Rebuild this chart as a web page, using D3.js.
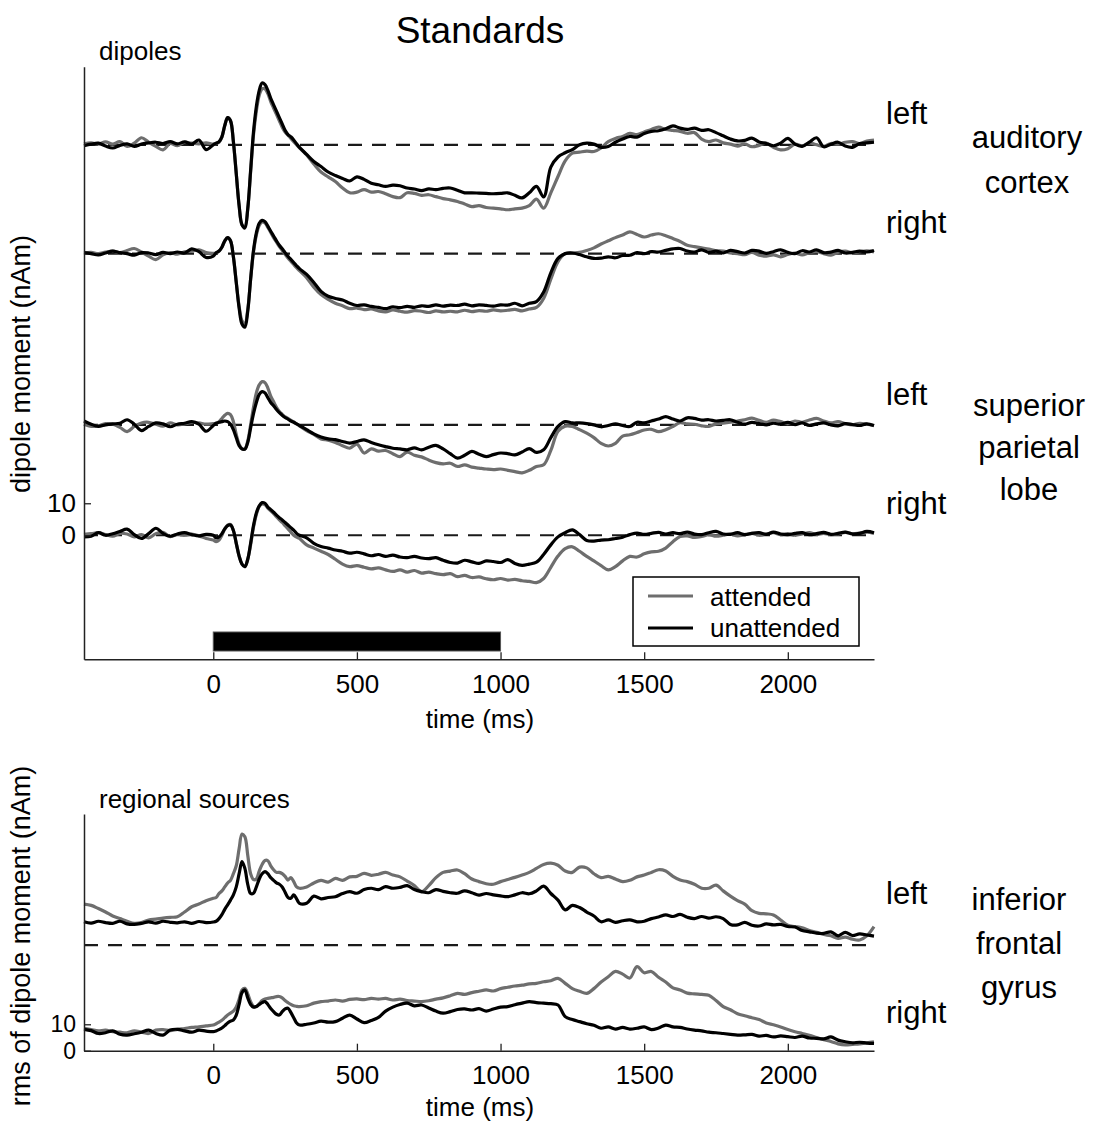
<!DOCTYPE html>
<html>
<head>
<meta charset="utf-8">
<script src="https://cdn.jsdelivr.net/npm/d3@7"></script>
<style>
  body { margin: 0; background: #fff; }
  svg { display: block; }
</style>
</head>
<body>
<svg id="chart" width="1093" height="1122"></svg>
<script>
'use strict';

// sample times (ms), shared by every trace
var times = [-450,-425,-400,-375,-350,-325,-300,-275,-250,-225,-200,-175,-150,-125,-100,-75,-50,-25,0,
  10,20,30,40,50,60,70,80,90,100,110,120,130,140,150,160,170,180,190,200,210,220,230,240,250,260,270,280,290,300,
  325,350,375,400,425,450,475,500,525,550,575,600,625,650,675,700,725,750,775,800,
  825,850,875,900,925,950,975,1000,1025,1050,1075,1100,1125,1150,1175,1200,1225,1250,1275,1300,
  1325,1350,1375,1400,1425,1450,1475,1500,1525,1550,1575,1600,1625,1650,1675,1700,1725,1750,1775,1800,
  1825,1850,1875,1900,1925,1950,1975,2000,2025,2050,2075,2100,2125,2150,2175,2200,2225,2250,2275,2300];

// dipoles (nAm) - auditory cortex left
var laAtt = [0.3,0.6,0.2,0.9,0.2,1.0,-0.5,0.5,2.2,0.8,-0.5,-1.6,0.4,-0.3,0.8,0.5,0.3,0.6,0.2,
  0.4,0.8,2.4,6.0,8.5,7.5,1.0,-9,-19,-25,-25.5,-20,-8.5,3,10.5,15.5,17.5,17.5,16,13.5,11.5,9.5,7.5,5.5,4,3,2,1,0,-1,
  -3.2,-6.0,-8.5,-10.0,-11.5,-13.5,-15.0,-14.8,-14.0,-14.8,-14.6,-15.3,-16.2,-16.5,-15.0,-15.2,-15.8,-15.6,-16.2,-16.8,
  -17.2,-17.7,-18.5,-19.3,-19.0,-19.6,-19.8,-20.0,-20.3,-20.0,-19.8,-19.0,-17.0,-19.8,-15.0,-9.9,-5.0,-2.6,-2.3,-2.0,
  -2.1,-1.0,1.0,2.0,2.6,3.6,3.2,4.0,4.8,5.5,4.8,4.5,4.2,3.6,3.8,1.8,1.0,1.5,0.6,0.2,
  -0.4,0.3,-0.6,-0.2,0.5,-0.8,-1.6,-1.2,0.2,-0.3,0.6,0.0,-0.5,0.4,0.2,0.8,1.0,0.4,1.2,1.5];
var laUna = [-0.3,0.2,0.5,-0.4,-1.0,-0.2,0.3,-0.5,0.2,0.6,0.8,0.4,1.0,0.3,0.9,0.2,1.5,-1.5,0.0,
  0.5,1.0,2.5,6.0,8.5,7.5,1.0,-9,-19,-25,-26,-20,-8,4,12,17,19.3,18.8,17.0,14.5,12.5,10.5,8.5,6.5,4.5,3.2,2.5,1.5,0.3,-0.8,
  -3.0,-5.2,-6.8,-8.5,-9.6,-10.5,-11.3,-10.0,-10.8,-12.0,-12.5,-13.0,-12.6,-12.8,-13.5,-13.8,-14.3,-13.8,-14.0,-13.6,
  -13.5,-14.2,-15.0,-15.0,-15.1,-15.2,-15.3,-15.2,-15.0,-15.8,-16.6,-15.0,-13.0,-16.3,-7.0,-3.8,-2.5,-1.5,0.0,0.5,
  0.2,-0.8,-0.5,0.8,1.8,2.6,2.4,3.5,4.2,4.4,5.0,5.9,5.2,4.8,5.2,4.5,4.7,3.8,2.8,1.8,
  1.2,1.4,2.1,0.9,0.4,-0.3,0.5,2.0,0.2,-0.5,0.8,2.2,-0.6,0.2,0.8,-0.4,-0.8,0.4,0.6,0.8];

// auditory cortex right
var raAtt = [0.2,0.4,0.0,0.5,0.8,0.3,1.0,1.6,0.5,-0.8,-1.9,-0.4,0.3,-0.2,0.6,0.8,1.2,0.3,0.1,
  0.2,0.8,2.0,4.0,5.0,4.0,-1.0,-9,-16.5,-21,-22,-17.5,-8,0.5,5.8,8.8,9.9,9.6,8.2,6.6,5.0,3.6,2.2,1.0,-0.2,-1.4,-2.4,-3.4,-4.4,-5.3,
  -7.5,-10.5,-12.8,-14.3,-15.5,-16.3,-17.2,-17.0,-17.5,-17.3,-17.9,-18.2,-17.6,-18.0,-18.3,-17.8,-18.0,-18.4,-17.9,-18.2,
  -18.0,-18.2,-17.7,-18.1,-17.8,-18.0,-17.6,-17.9,-17.7,-17.4,-17.9,-17.3,-16.8,-14.0,-8.0,-2.5,0.0,0.2,0.4,1.0,
  1.8,3.0,4.0,5.0,5.8,6.8,6.0,5.2,5.8,6.2,5.6,4.7,3.8,2.6,2.2,1.8,1.4,0.9,0.8,0.2,
  0.0,-0.3,0.4,-0.5,-0.8,-0.4,-1.0,-0.3,0.2,-0.4,0.3,0.6,0.0,-0.5,0.4,0.8,0.2,0.6,0.9,0.5];
var raUna = [0.3,0.0,-0.4,0.2,0.8,0.3,0.0,-0.5,0.3,0.2,-0.3,0.4,0.0,0.5,0.2,1.5,0.6,-1.2,-0.8,
  0.3,0.8,2.0,4.0,5.0,4.0,-1.0,-9,-17,-22,-23,-18,-8,1,6.5,9.5,10.4,10.0,8.6,7.0,5.5,4.0,2.6,1.5,0.3,-0.8,-1.8,-2.8,-3.8,-4.7,
  -6.5,-9.0,-11.8,-13.3,-14.0,-14.5,-15.5,-16.2,-16.0,-16.5,-16.8,-17.2,-16.6,-16.9,-16.5,-16.8,-16.3,-16.5,-16.0,-16.4,
  -16.1,-16.2,-15.8,-16.3,-16.0,-16.2,-16.4,-16.0,-16.1,-15.5,-16.3,-15.5,-15.0,-12.0,-6.0,-1.5,0.0,0.2,-0.3,-1.0,
  -1.5,-1.4,-1.0,-1.3,-0.6,-0.5,0.3,0.0,0.6,0.5,1.0,1.5,1.6,0.8,0.5,1.2,0.4,0.8,0.2,1.0,
  0.6,0.2,1.0,0.8,0.1,0.6,1.2,0.4,0.0,0.9,0.5,1.2,0.3,0.5,1.0,0.2,0.4,0.8,0.5,1.0];

// superior parietal lobe left
var lsAtt = [0.2,-0.5,-0.3,0.4,0.2,-0.8,-2.1,-0.5,0.6,0.8,0.2,-0.4,0.6,0.0,0.3,0.8,0.6,0.2,0.4,
  0.5,1.0,2.0,3.0,3.6,3.2,1.0,-3.0,-6.0,-7.5,-7.6,-5.0,0.0,5.5,10.0,12.5,13.5,13.2,11.5,9.0,7.2,5.5,4.2,3.3,2.5,2.0,1.4,0.9,0.3,-0.3,
  -1.8,-3.0,-4.4,-4.8,-5.5,-6.5,-7.3,-6.0,-8.8,-7.5,-8.2,-8.0,-9.0,-9.9,-8.5,-9.5,-10.0,-11.0,-11.8,-12.2,
  -12.0,-13.0,-12.5,-13.2,-13.5,-13.8,-14.0,-13.8,-14.2,-14.6,-15.0,-14.2,-13.0,-12.5,-8.0,-2.0,-0.4,-0.5,-1.5,-2.6,
  -4.0,-5.8,-6.6,-5.8,-3.5,-3.1,-2.4,-1.6,-1.4,-2.1,-1.5,-0.5,0.7,0.3,0.2,-0.3,-0.5,0.3,0.5,0.8,
  1.2,1.6,2.1,1.4,0.8,1.5,1.0,0.4,1.2,0.8,1.5,2.0,1.2,0.6,1.0,0.4,0.0,0.5,0.2,-0.3];
var lsUna = [1.2,0.2,-0.5,0.0,0.3,0.5,1.6,0.2,-1.8,-0.5,0.6,0.3,-0.6,0.2,0.5,1.0,0.2,-2.0,-0.2,
  0.5,0.8,1.0,1.2,1.0,0.2,-1.5,-4.0,-6.5,-7.5,-7.6,-5.5,-1.0,3.5,7.0,9.5,10.4,10.0,8.5,7.0,6.0,4.8,3.8,3.0,2.3,1.8,1.2,0.8,0.3,-0.2,
  -1.5,-2.8,-3.8,-4.4,-4.6,-5.2,-5.7,-5.2,-4.7,-5.5,-6.2,-6.8,-7.3,-7.5,-7.8,-7.2,-7.8,-7.0,-6.4,-7.5,
  -9.0,-10.4,-9.5,-8.3,-9.2,-9.9,-9.3,-8.8,-9.0,-9.4,-8.5,-7.4,-8.6,-7.8,-4.0,-0.5,1.0,0.6,0.6,0.4,
  0.0,-0.6,-0.2,0.3,-0.2,-0.5,0.8,0.6,1.2,1.8,2.6,1.8,1.2,2.2,2.0,1.5,1.6,1.2,1.4,1.6,
  0.8,0.2,0.8,0.4,0.0,0.5,0.2,0.8,0.1,0.6,-0.2,0.3,0.6,0.0,-0.3,0.4,0.1,-0.2,0.3,-0.2];

// superior parietal lobe right
var rsAtt = [0.3,0.5,0.8,0.2,-0.3,0.6,0.4,-0.5,0.2,-0.8,0.5,0.9,-0.4,0.2,0.0,0.4,-0.2,-1.0,-1.5,
  -2.0,-1.5,0.0,2.0,3.2,3.4,1.5,-2.5,-6.5,-9.0,-9.8,-7.5,-3.0,2.5,6.5,9.0,9.8,9.6,8.5,7.6,6.8,5.8,4.8,4.0,3.0,2.0,1.0,0.0,-0.6,-1.0,
  -3.0,-4.0,-5.0,-6.0,-7.5,-9.0,-9.8,-9.5,-10.0,-10.5,-10.2,-10.8,-11.3,-10.8,-11.5,-11.0,-11.8,-11.5,-12.0,-12.3,
  -12.0,-12.9,-12.5,-13.2,-13.0,-13.6,-13.9,-13.5,-14.0,-13.8,-14.2,-14.4,-14.8,-13.5,-10.0,-6.5,-4.2,-3.6,-5.0,-6.6,
  -8.0,-9.5,-10.8,-9.8,-8.0,-6.6,-6.8,-5.8,-5.2,-5.0,-4.0,-2.0,-0.4,-0.2,-0.7,-0.4,0.2,-0.3,0.0,0.4,
  -0.2,0.2,0.6,0.0,0.4,0.8,0.2,0.5,0.0,0.4,0.8,0.3,0.6,0.2,0.4,0.9,0.5,0.7,1.0,0.6];
var rsUna = [-0.5,-0.3,0.8,0.0,0.5,1.2,1.9,0.2,-1.0,0.5,2.2,0.6,-0.3,0.4,0.8,0.2,-0.2,0.3,0.0,
  -0.8,-0.5,0.5,2.0,3.0,3.2,1.5,-2.5,-6.5,-9.0,-9.8,-7.5,-2.5,3.0,7.0,9.2,10.2,10.0,8.8,8.0,7.2,6.3,5.5,4.8,4.0,3.2,2.4,1.6,0.6,0.0,
  -0.8,-2.5,-3.5,-4.0,-4.6,-5.0,-5.6,-5.3,-5.8,-6.4,-6.0,-6.6,-6.2,-6.8,-7.0,-6.6,-7.1,-7.3,-7.0,-7.8,
  -8.5,-8.7,-7.8,-8.3,-8.8,-8.0,-8.2,-8.5,-7.6,-8.8,-9.4,-9.0,-8.4,-6.0,-3.0,-0.5,0.8,1.7,0.2,-1.6,
  -1.8,-1.5,-1.4,-1.0,-0.6,0.2,0.7,0.3,0.6,0.9,0.4,0.8,0.5,1.0,0.4,0.2,0.8,1.2,0.4,0.3,
  0.8,0.2,0.6,0.8,0.3,1.0,0.4,0.2,0.6,0.8,0.2,0.5,0.9,0.3,0.6,1.0,0.4,0.6,1.2,0.8];

// regional sources, rms (nAm) - inferior frontal gyrus left
var liAtt = [15.5,15.0,13.8,12.5,11.0,10.0,9.0,8.2,8.5,9.5,9.8,10.2,10.5,10.7,12.5,14.5,15.5,16.8,17.7,
  18.0,19.5,20.5,22.0,23.5,24.5,27.0,30.0,36.5,42.0,41.0,34.0,27.0,24.8,25.0,28.0,30.5,32.0,31.9,30.0,28.5,27.5,27.5,27.0,26.0,24.6,25.5,24.0,22.0,21.5,
  22.0,23.5,24.5,23.8,25.2,24.5,25.8,26.0,27.1,26.4,26.8,27.5,26.5,25.8,24.2,22.5,20.2,22.5,25.5,27.5,
  28.0,28.4,27.0,25.0,24.0,23.2,23.0,24.0,24.8,25.6,26.5,27.5,29.0,30.5,31.0,30.2,28.0,27.5,29.5,29.2,
  27.0,25.5,26.0,25.0,24.0,24.5,25.8,26.5,27.5,28.5,28.0,26.0,24.6,24.0,23.0,21.5,21.5,22.7,20.5,18.5,
  16.8,15.5,13.0,12.0,11.8,11.4,9.5,7.5,7.0,6.5,5.5,4.8,4.0,3.5,2.5,3.0,2.2,1.9,3.5,7.0];
var liUna = [8.8,8.3,9.0,8.5,8.2,9.0,8.0,7.8,8.2,8.8,8.3,9.0,8.6,8.4,8.8,8.2,8.9,8.5,8.7,
  9.0,10.0,11.5,13.5,15.2,17.0,19.0,22.0,27.0,31.6,29.0,23.0,19.5,19.6,22.0,25.0,27.0,27.8,27.0,25.5,24.5,23.5,23.0,22.0,20.0,18.0,17.7,19.0,17.5,15.8,
  15.8,18.5,17.5,18.0,18.3,19.5,20.2,19.6,21.0,21.5,21.0,22.1,21.5,21.8,22.5,21.0,20.2,19.8,21.0,20.3,
  19.8,19.6,20.5,19.8,18.9,19.5,19.0,18.6,18.3,19.0,19.8,19.4,20.5,22.3,19.5,17.0,13.3,15.0,14.2,12.5,
  11.0,8.8,9.5,8.6,9.2,9.5,8.8,9.0,10.0,10.6,11.4,10.8,11.6,10.5,10.0,10.8,10.2,10.7,10.0,7.8,
  7.6,8.6,7.5,7.2,8.0,7.6,7.8,7.0,6.8,5.5,5.0,4.5,4.4,5.0,3.5,4.8,3.6,4.2,3.8,3.4];

// inferior frontal gyrus right
var riAtt = [8.5,8.0,7.5,7.8,7.2,7.0,6.8,7.5,7.0,6.5,7.8,8.0,7.6,8.1,8.4,8.8,9.0,9.4,9.7,
  10.2,10.8,11.5,12.5,13.5,14.2,15.0,16.5,19.5,23.0,23.6,21.5,18.5,16.8,16.7,17.8,19.0,19.6,19.8,20.0,20.2,20.5,20.5,20.0,19.0,18.2,17.5,17.0,16.8,16.7,
  17.0,18.0,18.6,18.8,19.2,18.8,19.4,19.6,19.3,19.8,19.5,19.8,19.2,19.5,19.0,18.8,18.6,18.9,19.5,20.0,
  20.8,21.7,21.3,22.0,22.5,23.0,22.6,23.5,24.0,24.5,24.8,25.3,25.5,26.1,26.5,27.4,25.5,23.5,22.5,21.7,
  23.5,26.0,28.0,30.0,29.0,27.5,31.8,29.5,30.0,27.8,26.0,23.8,23.0,21.8,21.5,21.3,21.0,19.0,16.7,15.5,
  14.0,13.2,12.5,11.8,10.5,9.8,9.0,8.0,7.2,6.5,5.8,5.0,4.2,3.5,2.6,2.2,2.4,2.6,3.0,3.4];
var riUna = [8.1,7.6,6.5,6.8,7.5,6.2,5.9,6.4,7.0,7.8,6.5,5.9,7.8,8.1,7.5,7.0,7.8,7.4,7.2,
  7.5,8.0,8.6,9.5,10.5,11.2,11.6,13.5,17.5,22.0,23.0,20.0,17.5,16.5,16.7,17.5,18.2,18.6,17.5,16.0,14.8,13.8,13.5,14.8,15.8,16.1,14.5,12.5,10.5,9.7,
  10.0,10.5,11.2,10.8,11.0,12.3,13.5,12.0,10.6,11.4,12.6,15.0,16.5,17.5,18.0,17.0,17.3,16.2,15.0,14.2,
  14.8,15.6,15.8,15.4,15.9,15.0,15.8,16.5,16.7,17.4,18.0,18.6,18.2,18.0,17.8,17.3,12.9,11.8,11.0,10.2,
  9.6,8.5,9.0,8.2,8.8,8.2,8.5,9.0,8.0,8.6,9.7,9.0,8.8,8.2,7.8,7.5,7.0,6.8,6.5,6.2,
  5.9,6.0,6.2,5.5,5.8,5.2,5.6,5.3,5.0,5.5,4.8,4.7,4.5,5.2,4.0,3.4,3.0,3.2,2.9,2.8];

// vertical stacking offsets (nAm) of each trace pair
var dipoleOffsets = [122, 88, 34.5, 0];
var regionalOffsets = [40, 0];

var xTicks = [0, 500, 1000, 1500, 2000];
var yTicks = [0, 10];
var stimulus = [0, 1000];
var legendLabels = ['attended', 'unattended'];

var FONT = '"Liberation Sans", Arial, Helvetica, sans-serif';
var GREY = '#6e6e6e';
var BLACK = '#000';
var AXIS_COLOR = '#222';

var svg = d3.select('#chart');

var x = d3.scaleLinear().domain([-450, 2300]).range([84, 874]);
var yTop = d3.scaleLinear().domain([-38.75, 146.4]).range([659.3, 66.7]);
var yBot = d3.scaleLinear().domain([0, 89.6]).range([1050.7, 814]);

function pairs(values) {
    return times.map(function(t, i) { return [t, values[i]]; });
}

function drawAxes(yScale, yFontSize) {
    var g = svg.append('g');
    var yMax = yScale.range()[0];

    g.append('g')
        .attr('class', 'xaxis')
        .attr('transform', 'translate(0,' + yMax + ')')
        .call(d3.axisBottom(x).tickValues(xTicks).tickFormat(d3.format('d'))
            .tickSizeInner(-7).tickSizeOuter(0).tickPadding(15));
    g.append('g')
        .attr('class', 'yaxis')
        .attr('transform', 'translate(' + x.range()[0] + ',0)')
        .call(d3.axisLeft(yScale).tickValues(yTicks).tickFormat(d3.format('d'))
            .tickSizeInner(-7).tickSizeOuter(0).tickPadding(8));

    g.selectAll('.domain').attr('stroke', AXIS_COLOR).attr('stroke-width', 1.5);
    g.selectAll('.tick line').attr('stroke', AXIS_COLOR).attr('stroke-width', 1.3);
    g.selectAll('.tick text')
        .attr('fill', '#000')
        .style('font-family', FONT)
        .style('font-size', '26px');
    g.selectAll('.yaxis .tick text').style('font-size', yFontSize + 'px');
    return g;
}

function drawTraces(yScale, pairsList, offsets) {
    var g = svg.append('g');
    var line = d3.line()
        .x(function(d) { return x(d[0]); })
        .curve(d3.curveCatmullRom.alpha(0.5));

    // dashed baselines first (the one sitting on the x axis is hidden by it)
    offsets.forEach(function(off) {
        if (yScale(off) >= yScale.range()[0] - 1) return;
        g.append('line')
            .attr('x1', x.range()[0]).attr('x2', x.range()[1])
            .attr('y1', yScale(off)).attr('y2', yScale(off))
            .attr('stroke', '#1a1a1a')
            .attr('stroke-width', 2.2)
            .attr('stroke-dasharray', '14,10');
    });

    pairsList.forEach(function(p, i) {
        var off = offsets[i];
        line.y(function(d) { return yScale(d[1] + off); });
        g.append('path')
            .attr('d', line(pairs(p[0])))
            .attr('fill', 'none')
            .attr('stroke', GREY)
            .attr('stroke-width', 3.2)
            .attr('stroke-linejoin', 'round');
        g.append('path')
            .attr('d', line(pairs(p[1])))
            .attr('fill', 'none')
            .attr('stroke', BLACK)
            .attr('stroke-width', 3.2)
            .attr('stroke-linejoin', 'round');
    });
}

function label(txt, px, py, size, anchor) {
    return svg.append('text')
        .attr('x', px).attr('y', py)
        .attr('text-anchor', anchor || 'start')
        .style('font-family', FONT)
        .style('font-size', size + 'px')
        .attr('fill', '#000')
        .text(txt);
}

/* ---- top panel: dipoles ---- */
drawTraces(yTop, [[laAtt, laUna], [raAtt, raUna], [lsAtt, lsUna], [rsAtt, rsUna]], dipoleOffsets);
drawAxes(yTop, 26);

// stimulus bar
svg.append('rect')
    .attr('x', x(stimulus[0]))
    .attr('y', 632)
    .attr('width', x(stimulus[1]) - x(stimulus[0]))
    .attr('height', 19)
    .attr('fill', '#000')
    .attr('stroke', '#555')
    .attr('stroke-width', 1);

// legend
var legend = svg.append('g');
legend.append('rect')
    .attr('x', 633).attr('y', 577)
    .attr('width', 226).attr('height', 69)
    .attr('fill', '#fff')
    .attr('stroke', '#000')
    .attr('stroke-width', 1.5);
[GREY, BLACK].forEach(function(c, i) {
    legend.append('line')
        .attr('x1', 648).attr('x2', 693)
        .attr('y1', 596 + i * 32).attr('y2', 596 + i * 32)
        .attr('stroke', c)
        .attr('stroke-width', 3.2);
    legend.append('text')
        .attr('x', 710).attr('y', 606 + i * 31)
        .style('font-family', FONT)
        .style('font-size', '26px')
        .text(legendLabels[i]);
});

label('Standards', 480, 43, 37, 'middle');
label('dipoles', 99, 60, 26);
label('time (ms)', 480, 728, 26, 'middle');
svg.append('text')
    .attr('transform', 'translate(30,364) rotate(-90)')
    .attr('text-anchor', 'middle')
    .style('font-family', FONT)
    .style('font-size', '27px')
    .text('dipole moment (nAm)');

label('left', 886, 124, 31);
label('right', 886, 233, 31);
label('auditory', 1027, 148, 31, 'middle');
label('cortex', 1027, 193, 31, 'middle');
label('left', 886, 405, 31);
label('right', 886, 514, 31);
label('superior', 1029, 416, 31, 'middle');
label('parietal', 1029, 458, 31, 'middle');
label('lobe', 1029, 500, 31, 'middle');

/* ---- bottom panel: regional sources ---- */
drawTraces(yBot, [[liAtt, liUna], [riAtt, riUna]], regionalOffsets);
drawAxes(yBot, 23);

label('regional sources', 99, 808, 26);
label('time (ms)', 480, 1116, 26, 'middle');
svg.append('text')
    .attr('transform', 'translate(30,936) rotate(-90)')
    .attr('text-anchor', 'middle')
    .style('font-family', FONT)
    .style('font-size', '27px')
    .text('rms of dipole moment (nAm)');

label('left', 886, 904, 31);
label('right', 886, 1023, 31);
label('inferior', 1019, 910, 31, 'middle');
label('frontal', 1019, 954, 31, 'middle');
label('gyrus', 1019, 998, 31, 'middle');
</script>
</body>
</html>
